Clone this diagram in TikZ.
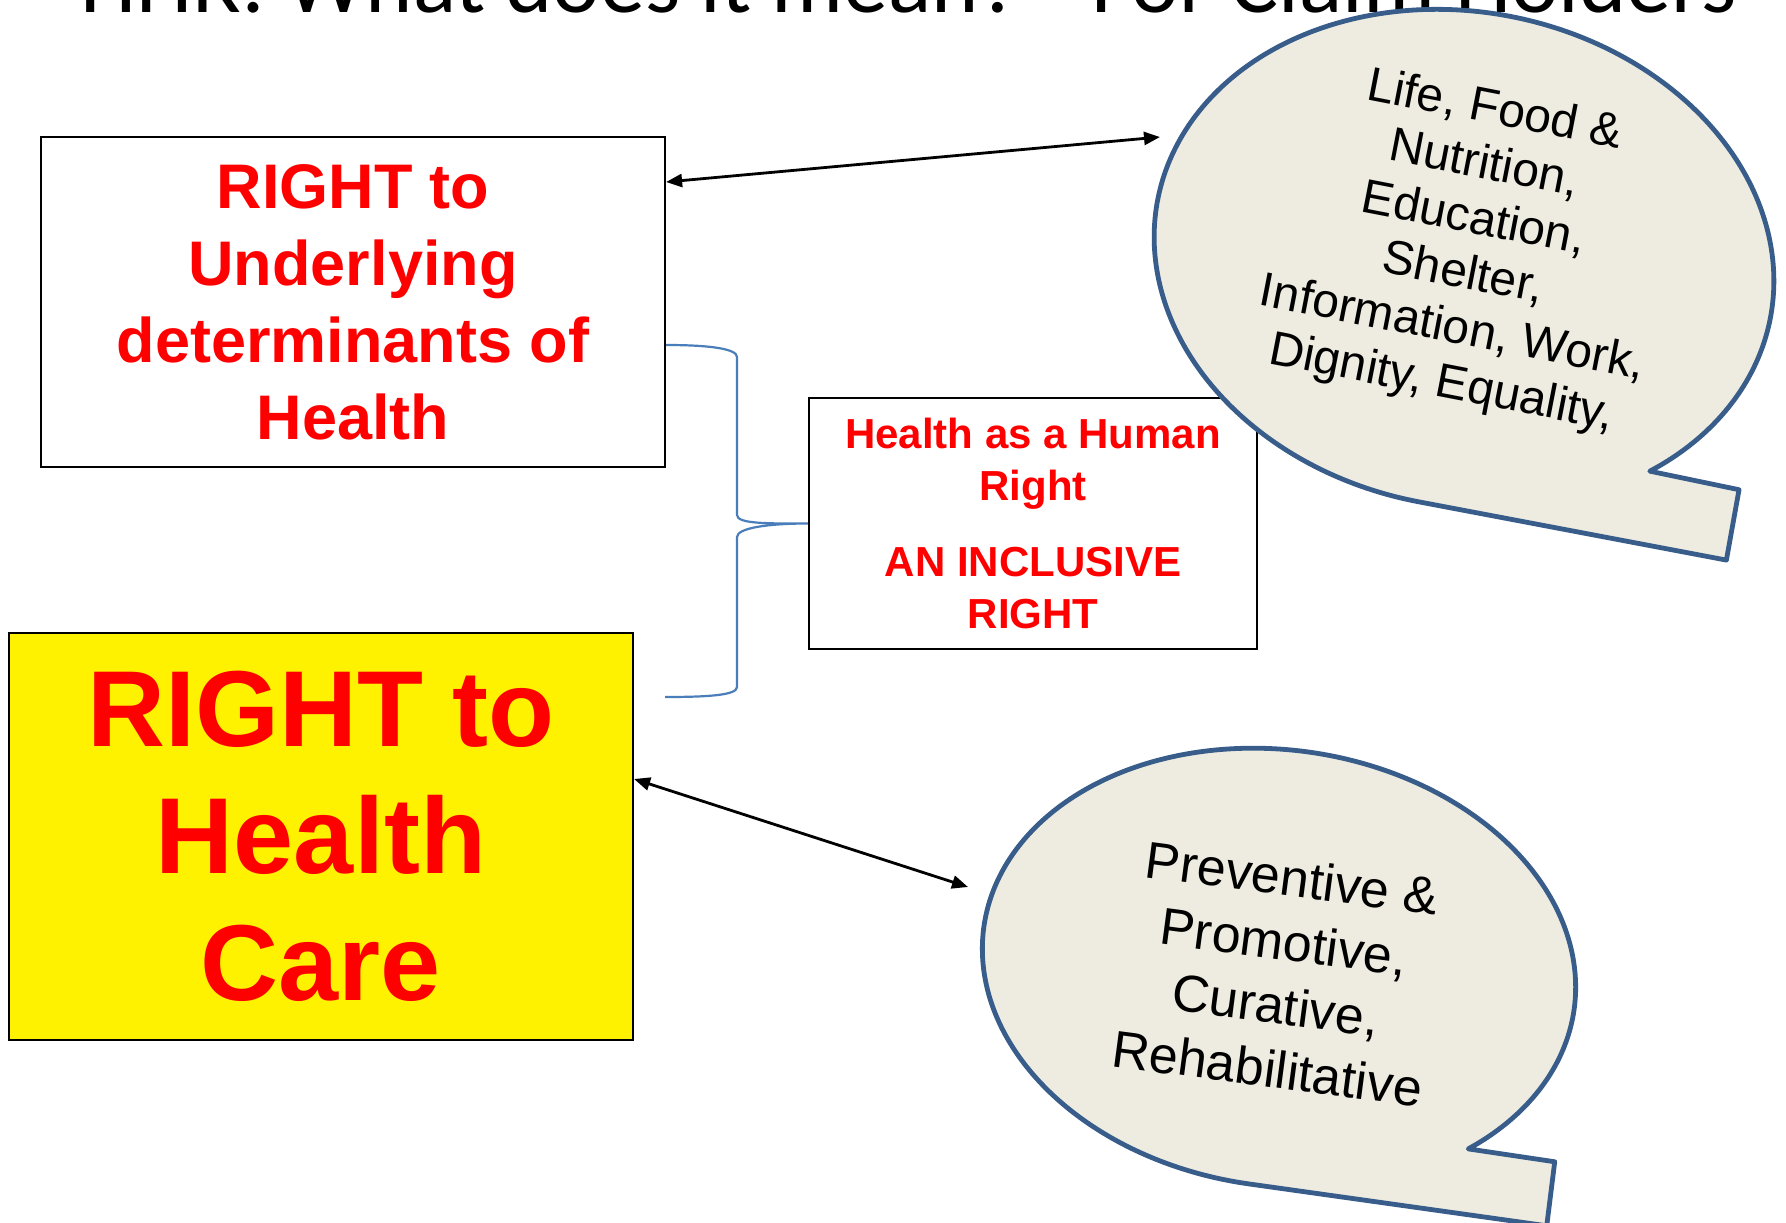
\documentclass[tikz,border=0pt]{standalone}
\usepackage{fontspec}
\setmainfont{Liberation Sans}
\newfontfamily\titlefont{Carlito}
\usetikzlibrary{arrows.meta}
\definecolor{bubblefill}{HTML}{EEECE1}
\definecolor{bubbleline}{HTML}{385D8A}
\definecolor{bracecol}{HTML}{4A7EBB}
\definecolor{redtext}{HTML}{FF0000}
\begin{document}
\begin{tikzpicture}[x=1pt,y=-1pt,
  box/.style={draw=black, line width=2.2pt, inner sep=0pt, align=center, text=redtext},
  bubble/.style={fill=bubblefill, draw=bubbleline, line width=4.8pt, line join=round},
  bubbletext/.style={align=center, inner sep=0pt, text=black},
  link/.style={line width=2.8pt, {Triangle[length=16pt,width=13pt]}-{Triangle[length=16pt,width=13pt]}},
  bracestyle/.style={draw=bracecol, line width=2.2pt}]
\useasboundingbox (0,0) rectangle (1786,1223);
\clip (0,0) rectangle (1786,1223);
\fill[white] (0,0) rectangle (1786,1223);

% title (only its lower part shows)
\node[anchor=base west, inner sep=0pt, font=\titlefont\fontsize{90}{100}\selectfont] (title1) at (80,13) {HHR: What does it mean?};
\node[anchor=base east, inner sep=0pt, font=\titlefont\fontsize{90}{100}\selectfont] (title2) at (1737,13) {For Claim Holders};

% boxes
\node[box, minimum width=624pt, minimum height=330pt, font=\bfseries\fontsize{63}{77}\selectfont] (box1) at (353,302) {RIGHT to\\Underlying\\determinants of\\Health};
\node[box, minimum width=448pt, minimum height=251pt, font=\bfseries\fontsize{42}{52}\selectfont] (box2) at (1033,523.5) {Health as a Human\\Right\\[24pt]AN INCLUSIVE\\RIGHT};
\node[box, fill=yellow, minimum width=624pt, minimum height=407pt, font=\bfseries\fontsize{108}{127}\selectfont] (box3) at (321,836.5) {RIGHT to\\Health\\Care};

% brace
\coordinate (bracebot) at (665,697);
\draw[bracestyle] ([yshift=-43pt]box1.east) .. controls +(45,0) and +(0,-8) .. (737,357) -- (737,515)
  .. controls +(0,9) and +(-40,0) .. (box2.west)
  .. controls +(-40,0) and +(0,-9) .. (737,537) -- (737,687)
  .. controls +(0,8) and +(45,0) .. (bracebot);

% arrows
\coordinate (a1e) at (1160,137);
\coordinate (a2e) at (968,887);
\draw[link] ([yshift=120pt]box1.east) -- (a1e);
\draw[link] ([yshift=57.5pt]box3.east) -- (a2e);

% speech bubbles
\begin{scope}[shift={(1464,259)}, rotate=-11]
\draw[bubble] plot[domain=90:404.4, samples=160, smooth] ({312*cos(\x)},{247*sin(\x)}) -- (314,174) -- (315,245.5) -- cycle;
\end{scope}
\begin{scope}[shift={(1279,968)}, rotate=-8]
\draw[bubble] plot[domain=90:404.5, samples=160, smooth] ({298*cos(\x)},{218*sin(\x)}) -- (300,153.5) -- (301,218) -- cycle;
\end{scope}

\node[bubbletext, rotate=-11, font=\fontsize{48}{55.6}\selectfont] (t1) at (1468,248) {Life, Food \&\\Nutrition,\\Education,\\Shelter,\\Information, Work,\\Dignity, Equality,};
\node[bubbletext, rotate=-7.5, font=\fontsize{52}{64}\selectfont] (t2) at (1280,973) {Preventive \&\\Promotive,\\Curative,\\Rehabilitative};
\end{tikzpicture}
\end{document}
